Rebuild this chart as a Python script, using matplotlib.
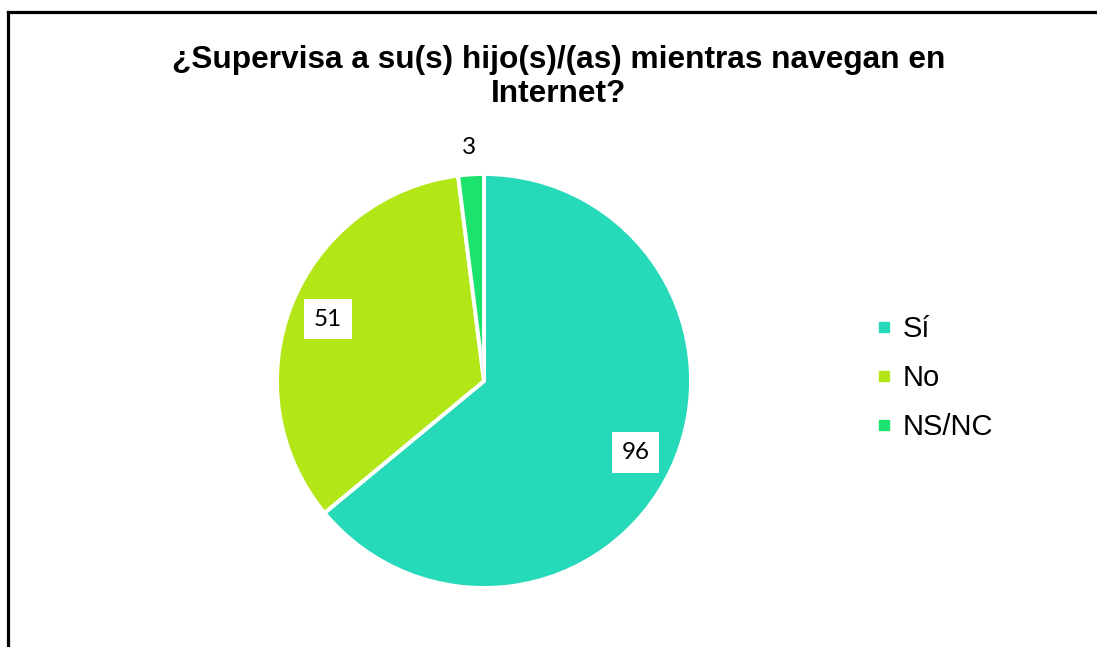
import matplotlib
matplotlib.use("Agg")
import matplotlib.pyplot as plt
from matplotlib.lines import Line2D
import numpy as np

title = "¿Supervisa a su(s) hijo(s)/(as) mientras navegan en\nInternet?"
categories = ["Sí", "No", "NS/NC"]
values = [96, 51, 3]
colors = ["#25D9B9", "#B3E616", "#1CE26E"]

W, H = 1097, 647
fig = plt.figure(figsize=(W / 100, H / 100), dpi=100)

# border (top and left visible)
fig.add_artist(Line2D([8 / W, 1.0], [1 - 12 / H, 1 - 12 / H], color="black", lw=2.3,
                      transform=fig.transFigure))
fig.add_artist(Line2D([8 / W, 8 / W], [1 - 12 / H, 0.0], color="black", lw=2.3,
                      transform=fig.transFigure))

fig.text(559 / W, 1 - 77 / H, title, ha="center", va="center", fontsize=22.8,
         fontweight="bold", family="Liberation Sans", linespacing=1.2)

cx, cy, r = 484, 381, 207
ax = fig.add_axes([(cx - r) / W, 1 - (cy + r) / H, 2 * r / W, 2 * r / H])
wedges, _ = ax.pie(values, colors=colors, startangle=90, counterclock=False,
                   wedgeprops=dict(edgecolor="white", linewidth=2.8), radius=1.0)
ax.set_xlim(-1, 1)
ax.set_ylim(-1, 1)
ax.set_aspect("equal")
ax.axis("off")

for w, v in zip(wedges, values):
    ang = np.deg2rad((w.theta1 + w.theta2) / 2)
    frac = v / sum(values)
    if frac > 0.05:
        d = 0.81
        ax.text(d * np.cos(ang), d * np.sin(ang), str(v), ha="center", va="center",
                fontsize=17.5, family="Lato",
                bbox=dict(boxstyle="square,pad=0.4", fc="white", ec="none"))
    else:
        d = 1.13
        ax.text(d * np.cos(ang), d * np.sin(ang), str(v), ha="center", va="center",
                fontsize=17.5, family="Lato")

handles = [Line2D([], [], marker="s", linestyle="none", markersize=6.5,
                  markerfacecolor=c, markeredgecolor=c) for c in colors]
fig.legend(handles, categories, loc="center left", bbox_to_anchor=(850 / W, 1 - 378 / H),
           frameon=False, prop=dict(family="Liberation Sans", size=21),
           handlelength=0.5, handletextpad=0.4, labelspacing=0.72)

fig.savefig("out.png", dpi=100, facecolor="white")
